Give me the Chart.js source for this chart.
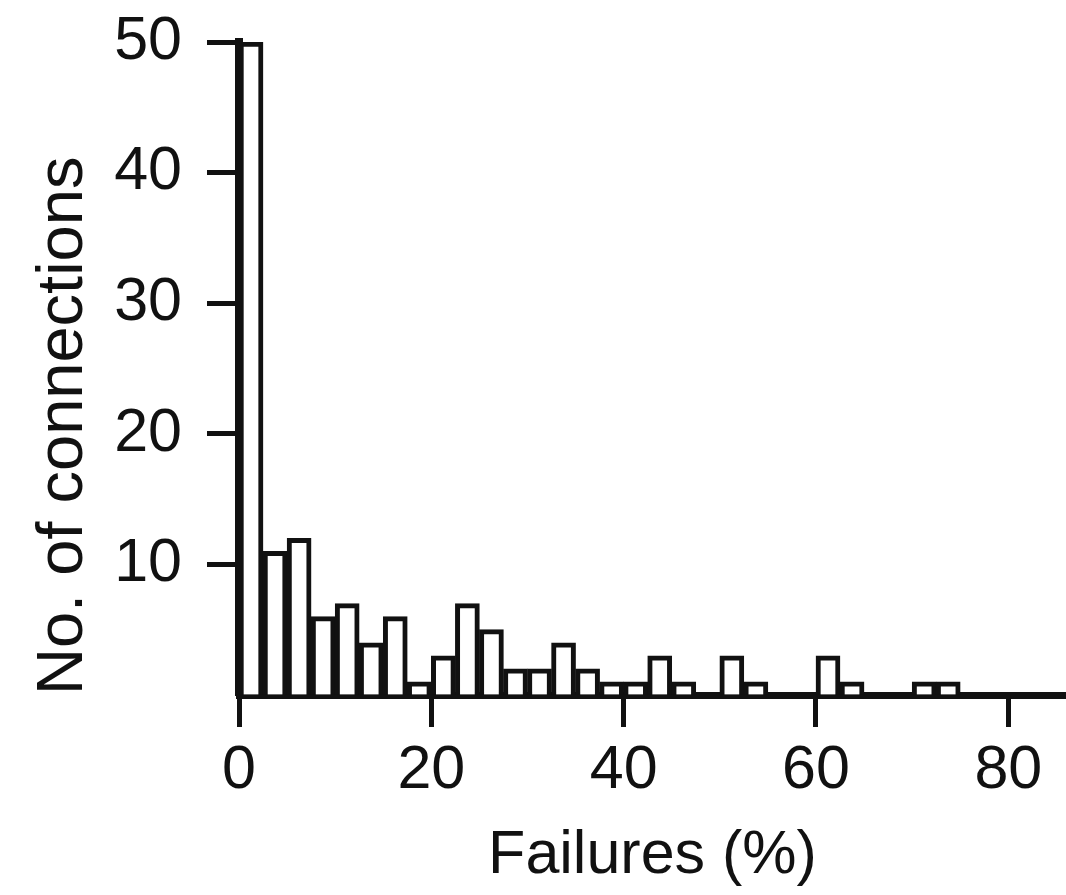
<!DOCTYPE html>
<html>
<head>
<meta charset="utf-8">
<script src="https://cdn.jsdelivr.net/npm/chart.js@4.4.1/dist/chart.umd.min.js"></script>
<style>
  html, body { margin: 0; padding: 0; background: #fff; }
  #wrap { width: 1066px; height: 895px; }
</style>
</head>
<body>
<div id="wrap"><canvas id="myChart" width="1066" height="895"></canvas></div>
<script>
// histogram bins, 2.5 % wide (bin start values)
var binStarts = [0, 2.5, 5, 7.5, 10, 12.5, 15, 17.5, 20, 22.5, 25, 27.5, 30, 32.5, 35, 37.5,
                 40, 42.5, 45, 47.5, 50, 52.5, 55, 57.5, 60, 62.5, 65, 67.5, 70, 72.5, 75, 77.5, 80, 82.5];
var counts    = [50, 11, 12, 6, 7, 4, 6, 1, 3, 7, 5, 2, 2, 4, 2, 1,
                 1, 3, 1, 0, 3, 1, 0, 0, 3, 1, 0, 0, 1, 1, 0, 0, 0, 0];
var binWidth = 2.5;
var xTicks = [0, 20, 40, 60, 80];
var yTicks = [10, 20, 30, 40, 50];

var fontFamily = '"Liberation Sans", Arial, Helvetica, sans-serif';
var font = { family: fontFamily, size: 61 };

// empty bins draw nothing, they only show the axis
var points = [];
binStarts.forEach(function (s, i) {
    if (counts[i] > 0) points.push({ x: s + binWidth / 2, y: counts[i] });
});

Chart.defaults.color = '#111';

var ctx = document.getElementById('myChart').getContext('2d');
var chart = new Chart(ctx, {
    type: 'bar',
    data: {
        datasets: [{
            data: points,
            backgroundColor: '#fff',
            borderColor: '#111',
            borderWidth: 5,
            barPercentage: 1,
            categoryPercentage: 1
        }]
    },
    options: {
        responsive: false,
        animation: false,
        layout: { padding: { top: 42, right: 0, bottom: 0, left: 0 } },
        plugins: { legend: { display: false }, tooltip: { enabled: false } },
        scales: {
            x: {
                type: 'linear',
                min: 0,
                max: 86,
                offset: false,
                z: 1,
                afterFit: function (scale) { scale.height = 895 - 695; },
                afterBuildTicks: function (scale) {
                    scale.ticks = xTicks.map(function (v) { return { value: v }; });
                },
                border: { display: true, color: '#111', width: 7 },
                grid: { offset: false, drawOnChartArea: false, drawTicks: true, tickLength: 32, tickWidth: 5, tickColor: '#111' },
                ticks: { font: font, padding: 8, maxRotation: 0, color: '#111' },
                title: { display: true, text: 'Failures (%)', font: font, color: '#111', padding: { top: 0, bottom: 2 } }
            },
            y: {
                min: 0,
                max: 50,
                z: 1,
                afterFit: function (scale) {
                    scale.width = 239;
                    scale.paddingTop = 0;
                    scale.paddingBottom = 0;
                },
                afterBuildTicks: function (scale) {
                    scale.ticks = [{ value: 0 }].concat(yTicks.map(function (v) { return { value: v }; }));
                },
                border: { display: true, color: '#111', width: 8 },
                grid: {
                    drawOnChartArea: false, drawTicks: true, tickLength: 32, tickWidth: 5,
                    tickColor: function (c) { return c.tick && c.tick.value === 0 ? 'rgba(0,0,0,0)' : '#111'; }
                },
                ticks: {
                    font: font, padding: 25, color: '#111',
                    callback: function (v) { return v === 0 ? '' : v; }
                },
                title: {
                    display: true, text: 'No. of connections', align: 'start',
                    font: { family: fontFamily, size: 65 }, color: '#111', padding: { top: 25, bottom: 0 }
                }
            }
        }
    }
});
</script>
</body>
</html>
